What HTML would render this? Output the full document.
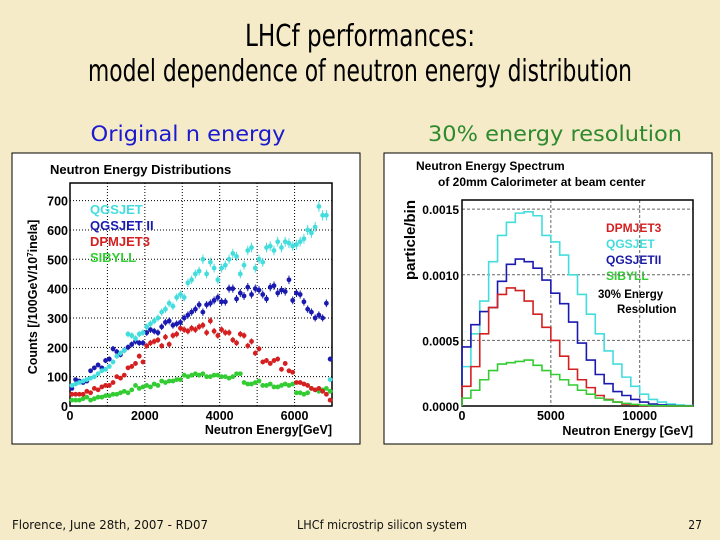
<!DOCTYPE html>
<html><head><meta charset="utf-8"><style>
html,body{margin:0;padding:0;background:#f6ebc8;}
svg{display:block;font-family:"Liberation Sans",sans-serif;}
</style></head><body>
<svg id="slide" width="720" height="540" viewBox="0 0 720 540">
<rect x="0" y="0" width="720" height="540" fill="#f6ebc8"/>
<text x="360" y="46" text-anchor="middle" font-family="DejaVu Sans Condensed, DejaVu Sans, sans-serif" font-size="30" textLength="230" lengthAdjust="spacingAndGlyphs" fill="#000">LHCf performances:</text>
<text x="360" y="81" text-anchor="middle" font-family="DejaVu Sans Condensed, DejaVu Sans, sans-serif" font-size="30" textLength="544" lengthAdjust="spacingAndGlyphs" fill="#000">model dependence of neutron energy distribution</text>
<text x="188" y="141" text-anchor="middle" font-family="DejaVu Sans, sans-serif" font-size="21" textLength="195" lengthAdjust="spacingAndGlyphs" fill="#1a1ad0">Original n energy</text>
<text x="555" y="141" text-anchor="middle" font-family="DejaVu Sans, sans-serif" font-size="21" textLength="254" lengthAdjust="spacingAndGlyphs" fill="#2e8a2e">30% energy resolution</text>
<text x="12" y="529" font-family="DejaVu Sans Condensed, DejaVu Sans, sans-serif" font-size="12" textLength="196" lengthAdjust="spacingAndGlyphs" fill="#111">Florence, June 28th, 2007 - RD07</text>
<text x="297" y="529" font-family="DejaVu Sans Condensed, DejaVu Sans, sans-serif" font-size="12" textLength="170" lengthAdjust="spacingAndGlyphs" fill="#111">LHCf microstrip silicon system</text>
<text x="702" y="529" text-anchor="end" font-family="DejaVu Sans Condensed, DejaVu Sans, sans-serif" font-size="12" fill="#111">27</text>

<g id="left">
<rect x="12" y="153" width="348" height="291" fill="#fff" stroke="#000" stroke-width="1"/>
<text x="50" y="174" font-size="13" font-weight="bold" fill="#000">Neutron Energy Distributions</text>
<text x="332" y="434" text-anchor="end" font-size="12.5" font-weight="bold">Neutron Energy[GeV]</text>
<text transform="translate(37,297) rotate(-90)" text-anchor="middle" font-size="12.5" font-weight="bold">Counts [/100GeV/10<tspan dy="-4" font-size="8">7</tspan><tspan dy="4">inela]</tspan></text>
</g>
<g id="right">
<rect x="384" y="153" width="328" height="291" fill="#fff" stroke="#000" stroke-width="1"/>
<text x="416" y="170" font-size="12" font-weight="bold">Neutron Energy Spectrum</text>
<text x="438" y="186" font-size="12" font-weight="bold">of 20mm Calorimeter at beam center</text>
<text x="693" y="435" text-anchor="end" font-size="12.5" font-weight="bold">Neutron Energy [GeV]</text>
<text transform="translate(415,240) rotate(-90)" text-anchor="middle" font-size="15" font-weight="bold">particle/bin</text>
<text x="606" y="232" font-size="12" font-weight="bold" fill="#d42020">DPMJET3</text>
<text x="606" y="248" font-size="12" font-weight="bold" fill="#44dddd">QGSJET</text>
<text x="606" y="264" font-size="12" font-weight="bold" fill="#1a1aa8">QGSJETII</text>
<text x="606" y="280" font-size="12" font-weight="bold" fill="#33cc33">SIBYLL</text>
<text x="598" y="298" font-size="11.5" font-weight="bold">30% Energy</text>
<text x="617" y="313" font-size="11.5" font-weight="bold">Resolution</text>
</g>
</svg>
<script>
// ---- Left chart data (counts per 100 GeV bin, bins 0..6900) ----
const leftCats = Array.from({length:70},(_,i)=>i*100);
const qgsjet = [70,75,80,85,90,95,100,110,120,125,135,150,170,180,190,245,240,230,245,250,270,280,290,300,320,330,350,340,370,380,370,420,430,450,460,500,450,490,470,430,470,480,500,520,510,450,480,530,540,470,500,490,540,545,530,560,540,560,555,545,550,560,570,600,590,610,680,650,650,90];
const qgsjet2 = [60,90,85,80,85,120,130,140,130,155,160,195,185,175,190,200,210,220,215,215,250,260,255,250,270,285,290,275,280,285,300,310,320,330,345,320,345,350,360,370,355,355,400,400,365,385,375,405,380,400,395,380,365,405,410,385,395,390,430,360,385,380,355,330,320,300,310,300,350,160];
const dpmjet3 = [40,40,40,40,50,45,60,55,65,70,70,80,100,95,105,130,135,145,170,150,205,215,220,225,205,235,210,240,245,265,260,255,265,260,270,275,250,290,255,240,260,250,250,225,215,245,240,205,220,180,195,150,155,145,155,160,125,145,120,115,80,80,75,70,60,55,60,50,40,20];
const sibyll = [20,20,20,25,30,20,25,30,30,35,35,40,40,45,50,45,55,70,60,65,70,65,75,70,85,80,85,85,90,90,105,100,105,110,105,110,100,100,105,105,100,100,95,100,110,110,80,75,75,80,85,70,70,75,65,65,70,75,70,75,45,45,40,45,60,55,50,55,60,50];
const leftXTicks = [0,2000,4000,6000];
const leftYTicks = [0,100,200,300,400,500,600,700];
const leftLegend = ["QGSJET","QGSJET II","DPMJET3","SIBYLL"];

// ---- Right chart data (units of 1e-4 particle/bin, 500 GeV bins 0..12500) ----
const rightCats = Array.from({length:26},(_,i)=>i*500);
const rQgsjet = [3,5.5,8,11,13,14,14.7,14.8,14.5,13,12.5,11.5,10,8.5,7,5.5,4.2,3.2,2.2,1.5,0.9,0.5,0.3,0.15,0.08,0.03];
const rQgsjet2 = [4.5,6.2,7.2,7.5,9.5,10.8,11.2,11,10.5,9.6,8.6,7.8,6.4,4.8,3.5,2.4,1.7,1.1,0.8,0.5,0.3,0.15,0.08,0.04,0.02,0.01];
const rDpmjet3 = [1.5,3,5.5,7.5,8.5,9,8.8,8,7,6,5,3.8,2.8,2,1.4,0.8,0.5,0.3,0.15,0.08,0.03,0.02,0.01,0,0,0];
const rSibyll = [0.6,1.2,2,2.7,3.2,3.3,3.4,3.5,3.1,2.7,2.4,2,1.6,1.2,0.9,0.6,0.45,0.3,0.2,0.12,0.06,0.03,0.02,0.01,0,0];
const rightXTicks = [0,5000,10000];
const rightYTicks = [0,5,10,15];
const rightYLabels = ["0.0000","0.0005","0.0010","0.0015"];

const NS="http://www.w3.org/2000/svg";
function mk(parent,tag,attrs){const e=document.createElementNS(NS,tag);for(const k in attrs)e.setAttribute(k,attrs[k]);parent.appendChild(e);return e;}

// Left axes
const L={x0:70,x1:332,y0:406,y1:183,xmax:7000,ymax:760};
const lx=v=>L.x0+(v/L.xmax)*(L.x1-L.x0);
const ly=v=>L.y0-(v/L.ymax)*(L.y0-L.y1);
const lg=document.getElementById('left');
for(let v=1000;v<7000;v+=1000){const l=mk(lg,'line',{x1:lx(v),x2:lx(v),y1:L.y1,y2:L.y0,stroke:'#000','stroke-width':1,'stroke-dasharray':'1,2'});

}
leftYTicks.slice(1).forEach(v=>{const l=mk(lg,'line',{x1:L.x0,x2:L.x1,y1:ly(v),y2:ly(v),stroke:'#000','stroke-width':1,'stroke-dasharray':'1,2'});

});
const lf=mk(lg,'rect',{x:L.x0,y:L.y1,width:L.x1-L.x0,height:L.y0-L.y1,fill:'none',stroke:'#000','stroke-width':1.5});


leftXTicks.forEach(v=>{const t=mk(lg,'text',{x:lx(v),y:L.y0+14,'text-anchor':'middle','font-size':12.5,'font-weight':'bold'});t.textContent=v;

});
leftYTicks.forEach(v=>{const t=mk(lg,'text',{x:L.x0-2,y:ly(v)+5,'text-anchor':'end','font-size':12.5,'font-weight':'bold'});t.textContent=v;

});
const lseries=[[sibyll,'#33cc33'],[dpmjet3,'#d42020'],[qgsjet2,'#1a1ab0'],[qgsjet,'#44dddd']];
lseries.forEach(([arr,c],si)=>{const g=mk(lg,'g',{});


arr.forEach((v,i)=>{const cx=lx(leftCats[i]+50),cy=ly(v);
const err=Math.sqrt(v)*0.7;
mk(g,'line',{x1:cx,x2:cx,y1:ly(v+err),y2:ly(v-err),stroke:c,'stroke-width':1});
mk(g,'line',{x1:lx(leftCats[i]),x2:lx(leftCats[i]+100),y1:cy,y2:cy,stroke:c,'stroke-width':1});
const p=mk(g,'circle',{cx:cx,cy:cy,r:2.4,fill:c});

});});
const lcol=['#44dddd','#1a1ab0','#d42020','#33cc33'];
leftLegend.forEach((n,i)=>{const t=mk(lg,'text',{x:90,y:214+i*16,'font-size':13,'font-weight':'bold',fill:lcol[i]});t.textContent=n;

});

// Right axes
const R={x0:462,x1:693,y0:406,y1:200,xmax:13000,ymax:15.7};
const rx=v=>R.x0+(v/R.xmax)*(R.x1-R.x0);
const ry=v=>R.y0-(v/R.ymax)*(R.y0-R.y1);
const rg=document.getElementById('right');
[5000,10000].forEach(v=>{const l=mk(rg,'line',{x1:rx(v),x2:rx(v),y1:R.y1,y2:R.y0,stroke:'#666','stroke-width':1,'stroke-dasharray':'3,2'});

});
[5,10,15].forEach(v=>{const l=mk(rg,'line',{x1:R.x0,x2:R.x1,y1:ry(v),y2:ry(v),stroke:'#666','stroke-width':1,'stroke-dasharray':'3,2'});

});
const rf=mk(rg,'rect',{x:R.x0,y:R.y1,width:R.x1-R.x0,height:R.y0-R.y1,fill:'none',stroke:'#000','stroke-width':1.5});


rightXTicks.forEach(v=>{const t=mk(rg,'text',{x:rx(v),y:R.y0+14,'text-anchor':'middle','font-size':12.5,'font-weight':'bold'});t.textContent=v;

});
rightYTicks.forEach((v,i)=>{const t=mk(rg,'text',{x:R.x0-3,y:ry(v)+5,'text-anchor':'end','font-size':12,'font-weight':'bold'});t.textContent=rightYLabels[i];

});
const rseries=[[rQgsjet,'#44dddd'],[rQgsjet2,'#1a1ab0'],[rDpmjet3,'#d42020'],[rSibyll,'#33cc33']];
rseries.forEach(([arr,c],si)=>{let d='M'+rx(0)+','+ry(0);
arr.forEach((v,i)=>{d+=' L'+rx(rightCats[i])+','+ry(v)+' L'+rx(rightCats[i]+500)+','+ry(v);});
d+=' L'+rx(13000)+','+ry(0);
const p=mk(rg,'path',{d:d,fill:'none',stroke:c,'stroke-width':1.6});

});
</script>
</body></html>
